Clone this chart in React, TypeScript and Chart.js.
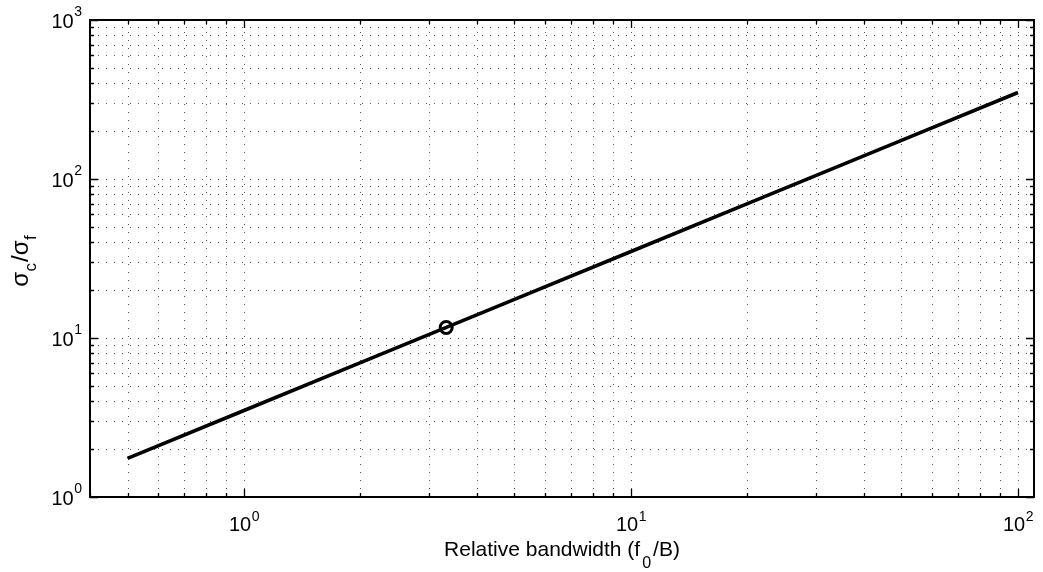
import React, { useEffect, useRef } from "react";
import { Chart, registerables } from "chart.js";

Chart.register(...registerables);

// Relative bandwidth (f0/B) and the resulting sigma ratio along the curve
const bandwidth = [0.5, 1, 2, 5, 10, 20, 50, 100];
const sigmaRatio = [1.75, 3.5, 7, 17.5, 35, 70, 175, 350];

// Highlighted operating point
const markerBandwidth = [3.33];
const markerRatio = [11.65];

// Axis limits and decade ticks
const xLimits = [0.4, 110];
const yLimits = [1, 1000];
const xDecades = [1, 10, 100];
const yDecades = [1, 10, 100, 1000];
const xDecadeExponents = ["0", "1", "2"];
const yDecadeExponents = ["0", "1", "2", "3"];
const minorMultipliers = [2, 3, 4, 5, 6, 7, 8, 9];

const FONT = "'Liberation Sans', Arial, Helvetica, sans-serif";

function logTicks(min: number, max: number): number[] {
  const out: number[] = [];
  for (let e = -2; e <= 4; e++) {
    const base = Math.pow(10, e);
    [1, ...minorMultipliers].forEach((m) => {
      const v = m * base;
      if (v >= min * 0.9999 && v <= max * 1.0001) out.push(v);
    });
  }
  return out;
}

const matlabAxes = {
  id: "matlabAxes",
  beforeDatasetsDraw(chart: any) {
    const { ctx, chartArea, scales } = chart;
    const { left, right, top, bottom } = chartArea;
    ctx.save();
    ctx.strokeStyle = "#555555";
    ctx.lineWidth = 1;
    ctx.setLineDash([1, 7]);
    logTicks(xLimits[0], xLimits[1]).forEach((v) => {
      const px = Math.round(scales.x.getPixelForValue(v)) + 0.5;
      if (px <= left + 1.5 || px >= right - 1.5) return;
      ctx.beginPath();
      ctx.moveTo(px, bottom);
      ctx.lineTo(px, top);
      ctx.stroke();
    });
    logTicks(yLimits[0], yLimits[1]).forEach((v) => {
      const py = Math.round(scales.y.getPixelForValue(v)) + 0.5;
      if (py <= top + 1.5 || py >= bottom - 1.5) return;
      ctx.beginPath();
      ctx.moveTo(left, py);
      ctx.lineTo(right, py);
      ctx.stroke();
    });
    ctx.restore();
  },
  afterDatasetsDraw(chart: any) {
    const { ctx, chartArea, scales } = chart;
    const { left, right, top, bottom } = chartArea;
    ctx.save();
    ctx.setLineDash([]);
    ctx.strokeStyle = "#000";

    // tick marks pointing inward on all four sides
    ctx.lineWidth = 1.3;
    logTicks(xLimits[0], xLimits[1]).forEach((v) => {
      const px = Math.round(scales.x.getPixelForValue(v)) + 0.5;
      const len = xDecades.includes(v) ? 8 : 4;
      ctx.beginPath();
      ctx.moveTo(px, bottom);
      ctx.lineTo(px, bottom - len);
      ctx.moveTo(px, top);
      ctx.lineTo(px, top + len);
      ctx.stroke();
    });
    logTicks(yLimits[0], yLimits[1]).forEach((v) => {
      const py = Math.round(scales.y.getPixelForValue(v)) + 0.5;
      const len = yDecades.includes(v) ? 8 : 4;
      ctx.beginPath();
      ctx.moveTo(left, py);
      ctx.lineTo(left + len, py);
      ctx.moveTo(right, py);
      ctx.lineTo(right - len, py);
      ctx.stroke();
    });

    // axes box
    ctx.lineWidth = 2;
    ctx.strokeRect(left, top, right - left, bottom - top);

    ctx.fillStyle = "#000";
    ctx.textBaseline = "alphabetic";
    ctx.textAlign = "left";
    const mainFont = `20px ${FONT}`;
    const expFont = `14px ${FONT}`;

    // x decade labels: 10^n centred under the tick
    xDecades.forEach((v, i) => {
      const px = scales.x.getPixelForValue(v);
      ctx.font = mainFont;
      const wBase = ctx.measureText("10").width;
      ctx.font = expFont;
      const wExp = ctx.measureText(xDecadeExponents[i]).width;
      const x0 = px - (wBase + wExp) / 2;
      ctx.font = mainFont;
      ctx.fillText("10", x0, bottom + 34);
      ctx.font = expFont;
      ctx.fillText(xDecadeExponents[i], x0 + wBase + 0.5, bottom + 24);
    });

    // y decade labels: 10^n right-aligned left of the axis
    yDecades.forEach((v, i) => {
      const py = scales.y.getPixelForValue(v);
      ctx.font = expFont;
      const wExp = ctx.measureText(yDecadeExponents[i]).width;
      ctx.font = mainFont;
      const wBase = ctx.measureText("10").width;
      const xEnd = left - 8;
      ctx.fillText("10", xEnd - wExp - wBase - 0.5, py + 8);
      ctx.font = expFont;
      ctx.fillText(yDecadeExponents[i], xEnd - wExp, py - 4);
    });

    // x axis title with subscript
    const titleFont = `21px ${FONT}`;
    const subFont = `16px ${FONT}`;
    const partA = "Relative bandwidth (f";
    const partSub = "0";
    const partB = "/B)";
    ctx.font = titleFont;
    const wA = ctx.measureText(partA).width;
    const wB = ctx.measureText(partB).width;
    ctx.font = subFont;
    const wS = ctx.measureText(partSub).width;
    const gap = 2;
    const totalX = wA + gap + wS + gap + wB;
    const cx = (left + right) / 2;
    let tx = cx - totalX / 2;
    const titleBase = bottom + 59;
    ctx.font = titleFont;
    ctx.fillText(partA, tx, titleBase);
    tx += wA + gap;
    ctx.font = subFont;
    ctx.fillText(partSub, tx, titleBase + 12);
    tx += wS + gap;
    ctx.font = titleFont;
    ctx.fillText(partB, tx, titleBase);

    // y axis title: sigma_c / sigma_f, rotated
    const yParts: [string, boolean][] = [
      ["σ", false],
      ["c", true],
      ["/", false],
      ["σ", false],
      ["f", true],
    ];
    const yMain = `24px ${FONT}`;
    const ySub = `17px ${FONT}`;
    let totalY = 0;
    const widths = yParts.map(([t, sub]) => {
      ctx.font = sub ? ySub : yMain;
      const w = ctx.measureText(t).width + (sub ? 1.5 : 0);
      totalY += w;
      return w;
    });
    ctx.save();
    ctx.translate(28, (top + bottom) / 2 + 2);
    ctx.rotate(-Math.PI / 2);
    let ty = -totalY / 2;
    yParts.forEach(([t, sub], i) => {
      ctx.font = sub ? ySub : yMain;
      ctx.fillText(t, ty + (sub ? 0.5 : 0), sub ? 8 : 0);
      ty += widths[i];
    });
    ctx.restore();

    ctx.restore();
  },
};

export default function App() {
  const canvasRef = useRef<HTMLCanvasElement | null>(null);

  useEffect(() => {
    if (!canvasRef.current) return;
    const chart = new Chart(canvasRef.current, {
      type: "scatter",
      data: {
        datasets: [
          {
            type: "line",
            data: bandwidth.map((x, i) => ({ x, y: sigmaRatio[i] })),
            borderColor: "#000",
            borderWidth: 3.6,
            pointRadius: 0,
            fill: false,
            tension: 0,
          } as any,
          {
            type: "scatter",
            data: markerBandwidth.map((x, i) => ({ x, y: markerRatio[i] })),
            pointRadius: 6,
            pointBorderWidth: 3,
            borderColor: "#000",
            backgroundColor: "rgba(0,0,0,0)",
            pointStyle: "circle",
          } as any,
        ],
      },
      options: {
        responsive: false,
        animation: false,
        devicePixelRatio: 1,
        layout: { padding: { left: 90, right: 4, top: 20, bottom: 75 } },
        scales: {
          x: { type: "logarithmic", min: xLimits[0], max: xLimits[1], display: false },
          y: { type: "logarithmic", min: yLimits[0], max: yLimits[1], display: false },
        },
        plugins: { legend: { display: false }, tooltip: { enabled: false } },
      },
      plugins: [matlabAxes],
    });
    return () => chart.destroy();
  }, []);

  return (
    <div
      style={{
        position: "fixed",
        left: 0,
        top: 0,
        width: 1043,
        height: 572,
        background: "#fff",
      }}
    >
      <canvas ref={canvasRef} width={1043} height={572} />
    </div>
  );
}
